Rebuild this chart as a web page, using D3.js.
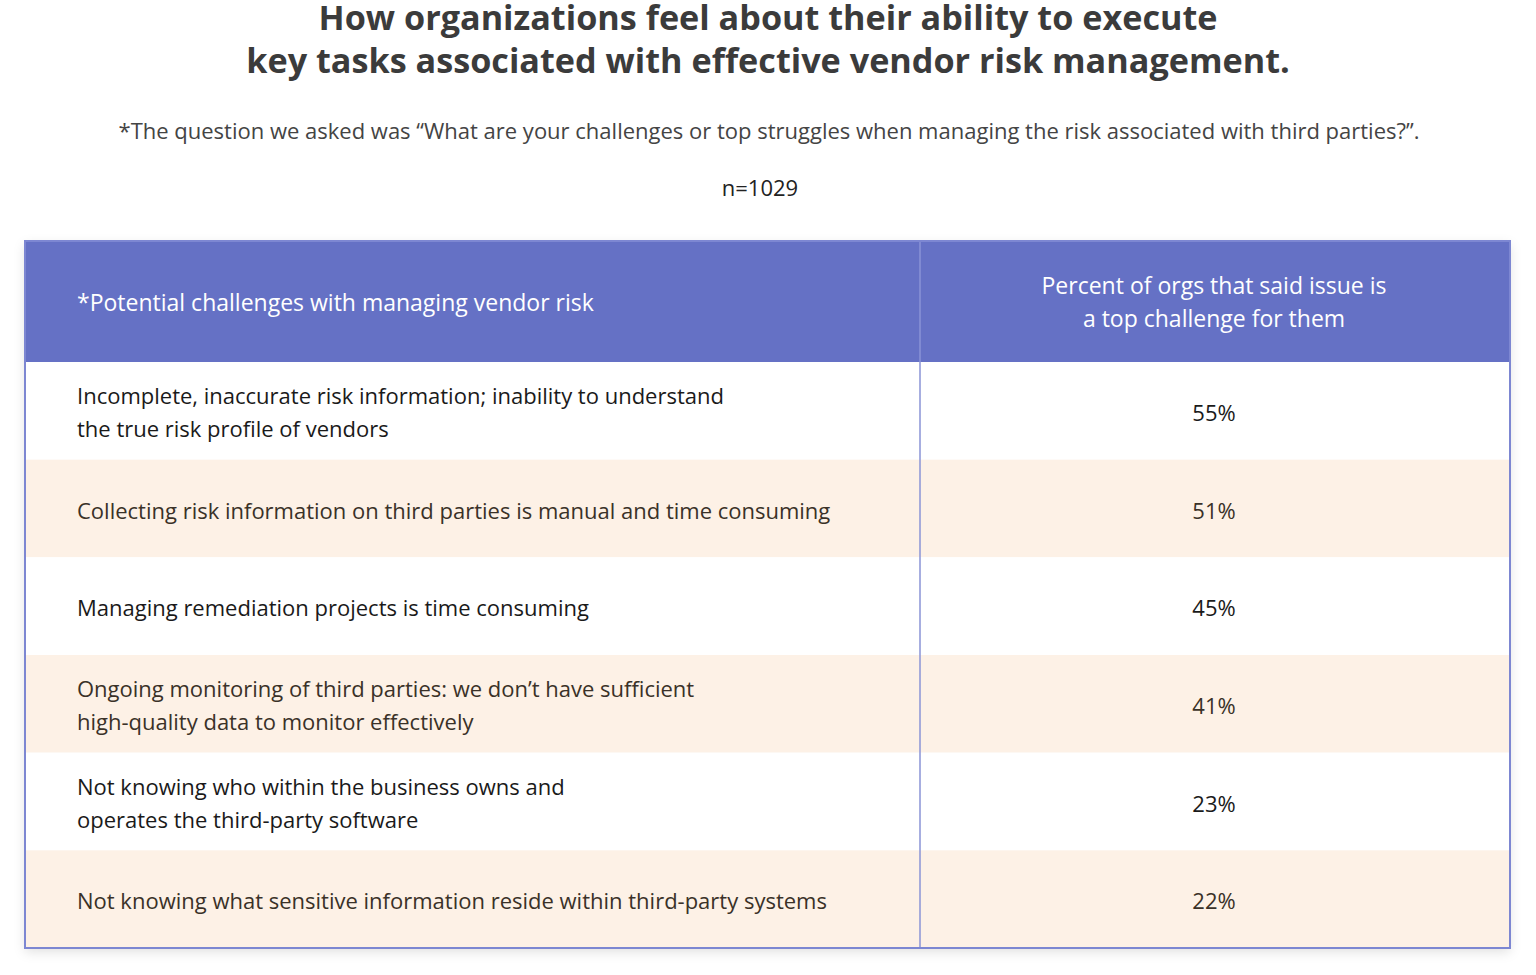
<!DOCTYPE html>
<html>
<head>
<meta charset="utf-8">
<script src="https://cdn.jsdelivr.net/npm/d3@7"></script>
<style>
  body { margin: 0; background: #fff; }
  svg text { font-family: "Open Sans", sans-serif; }
</style>
</head>
<body>
<div id="chart"></div>
<script>
const W = 1536, H = 975;

// chart text + values
const titleLines = ["How organizations feel about their ability to execute",
                    "key tasks associated with effective vendor risk management."];
const subtitle = "*The question we asked was \u201cWhat are your challenges or top struggles when managing the risk associated with third parties?\u201d.";
const sampleSize = "n=1029";
const headerLeft = ["*Potential challenges with managing vendor risk"];
const headerRight = ["Percent of orgs that said issue is", "a top challenge for them"];
const challenges = [
  ["Incomplete, inaccurate risk information; inability to understand", "the true risk profile of vendors"],
  ["Collecting risk information on third parties is manual and time consuming"],
  ["Managing remediation projects is time consuming"],
  ["Ongoing monitoring of third parties: we don\u2019t have sufficient", "high-quality data to monitor effectively"],
  ["Not knowing who within the business owns and", "operates the third-party software"],
  ["Not knowing what sensitive information reside within third-party systems"]
];
const percents = [55, 51, 45, 41, 23, 22];

const table = {left: 25, right: 1510, top: 241, headerBottom: 362, bottom: 948, split: 920};
const lineGap = 33;

const svg = d3.select("#chart").append("svg")
  .attr("width", W).attr("height", H);

// soft shadow under the table
const defs = svg.append("defs");
const f = defs.append("filter").attr("id", "shadow")
  .attr("x", "-5%").attr("y", "-5%").attr("width", "110%").attr("height", "115%");
f.append("feDropShadow").attr("dx", 0).attr("dy", 4).attr("stdDeviation", 6)
  .attr("flood-color", "#000").attr("flood-opacity", 0.12);

// titles
svg.append("g").selectAll("text").data(titleLines).join("text")
  .attr("x", W / 2).attr("y", (d, i) => 30 + i * 43)
  .attr("text-anchor", "middle")
  .style("font-size", "34.2px").style("font-weight", 700).style("fill", "#3b3b3b")
  .text(d => d);

svg.append("text").attr("x", W / 2 + 1).attr("y", 139)
  .attr("text-anchor", "middle")
  .style("font-size", "22px").style("fill", "#444")
  .text(subtitle);

svg.append("text").attr("x", 760).attr("y", 196)
  .attr("text-anchor", "middle")
  .style("font-size", "22px").style("fill", "#222")
  .text(sampleSize);

// row scale
const y = d3.scaleBand()
  .domain(d3.range(challenges.length))
  .range([table.headerBottom, table.bottom])
  .padding(0);

const g = svg.append("g");

g.append("rect")
  .attr("x", table.left).attr("y", table.top)
  .attr("width", table.right - table.left).attr("height", table.bottom - table.top)
  .attr("fill", "#fff").attr("filter", "url(#shadow)");

// header
g.append("rect")
  .attr("x", table.left).attr("y", table.top)
  .attr("width", table.right - table.left).attr("height", table.headerBottom - table.top)
  .attr("fill", "#6571c5");

const headMid = (table.top + table.headerBottom) / 2;
function lines(sel, arr, x, cy, anchor) {
  const n = arr.length;
  sel.selectAll("text").data(arr).join("text")
    .attr("x", x)
    .attr("y", (d, i) => cy + (i - (n - 1) / 2) * lineGap + 8)
    .attr("text-anchor", anchor)
    .text(d => d);
}
const hl = g.append("g").style("fill", "#fff").style("font-size", "23px");
lines(hl, headerLeft, 77, headMid + 1, "start");
const hr = g.append("g").style("fill", "#fff").style("font-size", "23px");
lines(hr, headerRight, (table.split + table.right) / 2 - 1, headMid + 1, "middle");

// body rows
const rows = g.selectAll("g.row").data(challenges).join("g").attr("class", "row");

rows.append("rect")
  .attr("x", table.left).attr("y", (d, i) => y(i))
  .attr("width", table.right - table.left).attr("height", y.bandwidth())
  .attr("fill", (d, i) => i % 2 ? "#fdf1e6" : "#fff");

rows.each(function(d, i) {
  const row = d3.select(this).append("g")
    .style("font-size", "22px")
    .style("fill", i % 2 ? "#3a3128" : "#1a1a1a");
  const cy = y(i) + y.bandwidth() / 2 + 2;
  lines(row, d, 77, cy, "start");
  row.append("text")
    .attr("x", (table.split + table.right) / 2 - 1).attr("y", cy + 8)
    .attr("text-anchor", "middle")
    .text(percents[i] + "%");
});

// borders
g.append("line")
  .attr("x1", table.split).attr("x2", table.split)
  .attr("y1", table.top).attr("y2", table.bottom)
  .attr("stroke", "#8a93d6").attr("stroke-width", 1.5);

g.append("rect")
  .attr("x", table.left).attr("y", table.top)
  .attr("width", table.right - table.left).attr("height", table.bottom - table.top)
  .attr("fill", "none").attr("stroke", "#7d87d2").attr("stroke-width", 2);
</script>
</body>
</html>
